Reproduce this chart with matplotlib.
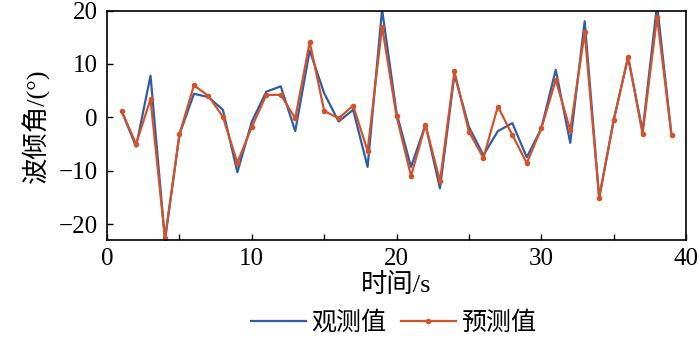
import matplotlib.pyplot as plt
from matplotlib.ticker import MultipleLocator

# data
tiempo = list(range(1, 40))
observado = [1.2, -5.5, 7.8, -23.0, -3.2, 4.4, 3.8, 1.4, -10.3, -0.8,
             4.8, 5.8, -2.6, 12.5, 4.5, -0.8, 1.4, -9.3, 20.2, 0.8,
             -9.3, -1.4, -13.3, 8.0, -1.8, -7.1, -2.6, -1.1, -7.5, -2.1,
             8.9, -4.8, 18.0, -15.1, -0.6, 11.3, -2.6, 21.1, -3.4]
predicho = [1.2, -5.0, 3.4, -22.7, -3.2, 6.0, 4.0, 0.1, -8.5, -1.8,
            4.2, 4.2, -0.2, 14.1, 1.2, -0.2, 2.2, -6.3, 17.0, 0.2,
            -11.0, -1.4, -12.0, 8.6, -2.7, -7.6, 2.0, -3.3, -8.6, -2.1,
            7.0, -2.4, 15.9, -15.1, -0.6, 11.3, -3.1, 18.8, -3.4]

fuentes = ['Liberation Serif', 'Noto Sans CJK SC']
plt.rcParams['font.family'] = fuentes

fig = plt.figure(figsize=(7, 3.4), dpi=100)
ax = fig.add_axes([0.153, 0.294, 0.827, 0.675])

ax.plot(tiempo, observado, color='#2f5ea6', lw=1.6, label='观测值')
ax.plot(tiempo, predicho, color='#d2532b', lw=1.6, marker='o', ms=3,
        label='预测值')

ax.set_xlim(0, 40)
ax.set_ylim(-23, 20)
ax.xaxis.set_major_locator(MultipleLocator(10))
ax.xaxis.set_minor_locator(MultipleLocator(5))
ax.yaxis.set_major_locator(MultipleLocator(10))
ax.tick_params(which='both', direction='in', length=4, width=1,
               labelsize=18, top=False, right=False)
ax.tick_params(axis='x', pad=6)
ax.tick_params(axis='y', pad=7)
for s in ax.spines.values():
    s.set_linewidth(1.2)

ax.set_xlabel('时间/s', fontsize=19, labelpad=2)
ax.set_ylabel('波倾角/(°)', fontsize=19, labelpad=6)

fig.legend(loc='center', bbox_to_anchor=(0.562, 0.05), ncol=2,
           frameon=False, fontsize=18, handlelength=2.2, handletextpad=0.2,
           columnspacing=0.6, borderaxespad=0, numpoints=1)

fig.savefig('out.png', dpi=100)
